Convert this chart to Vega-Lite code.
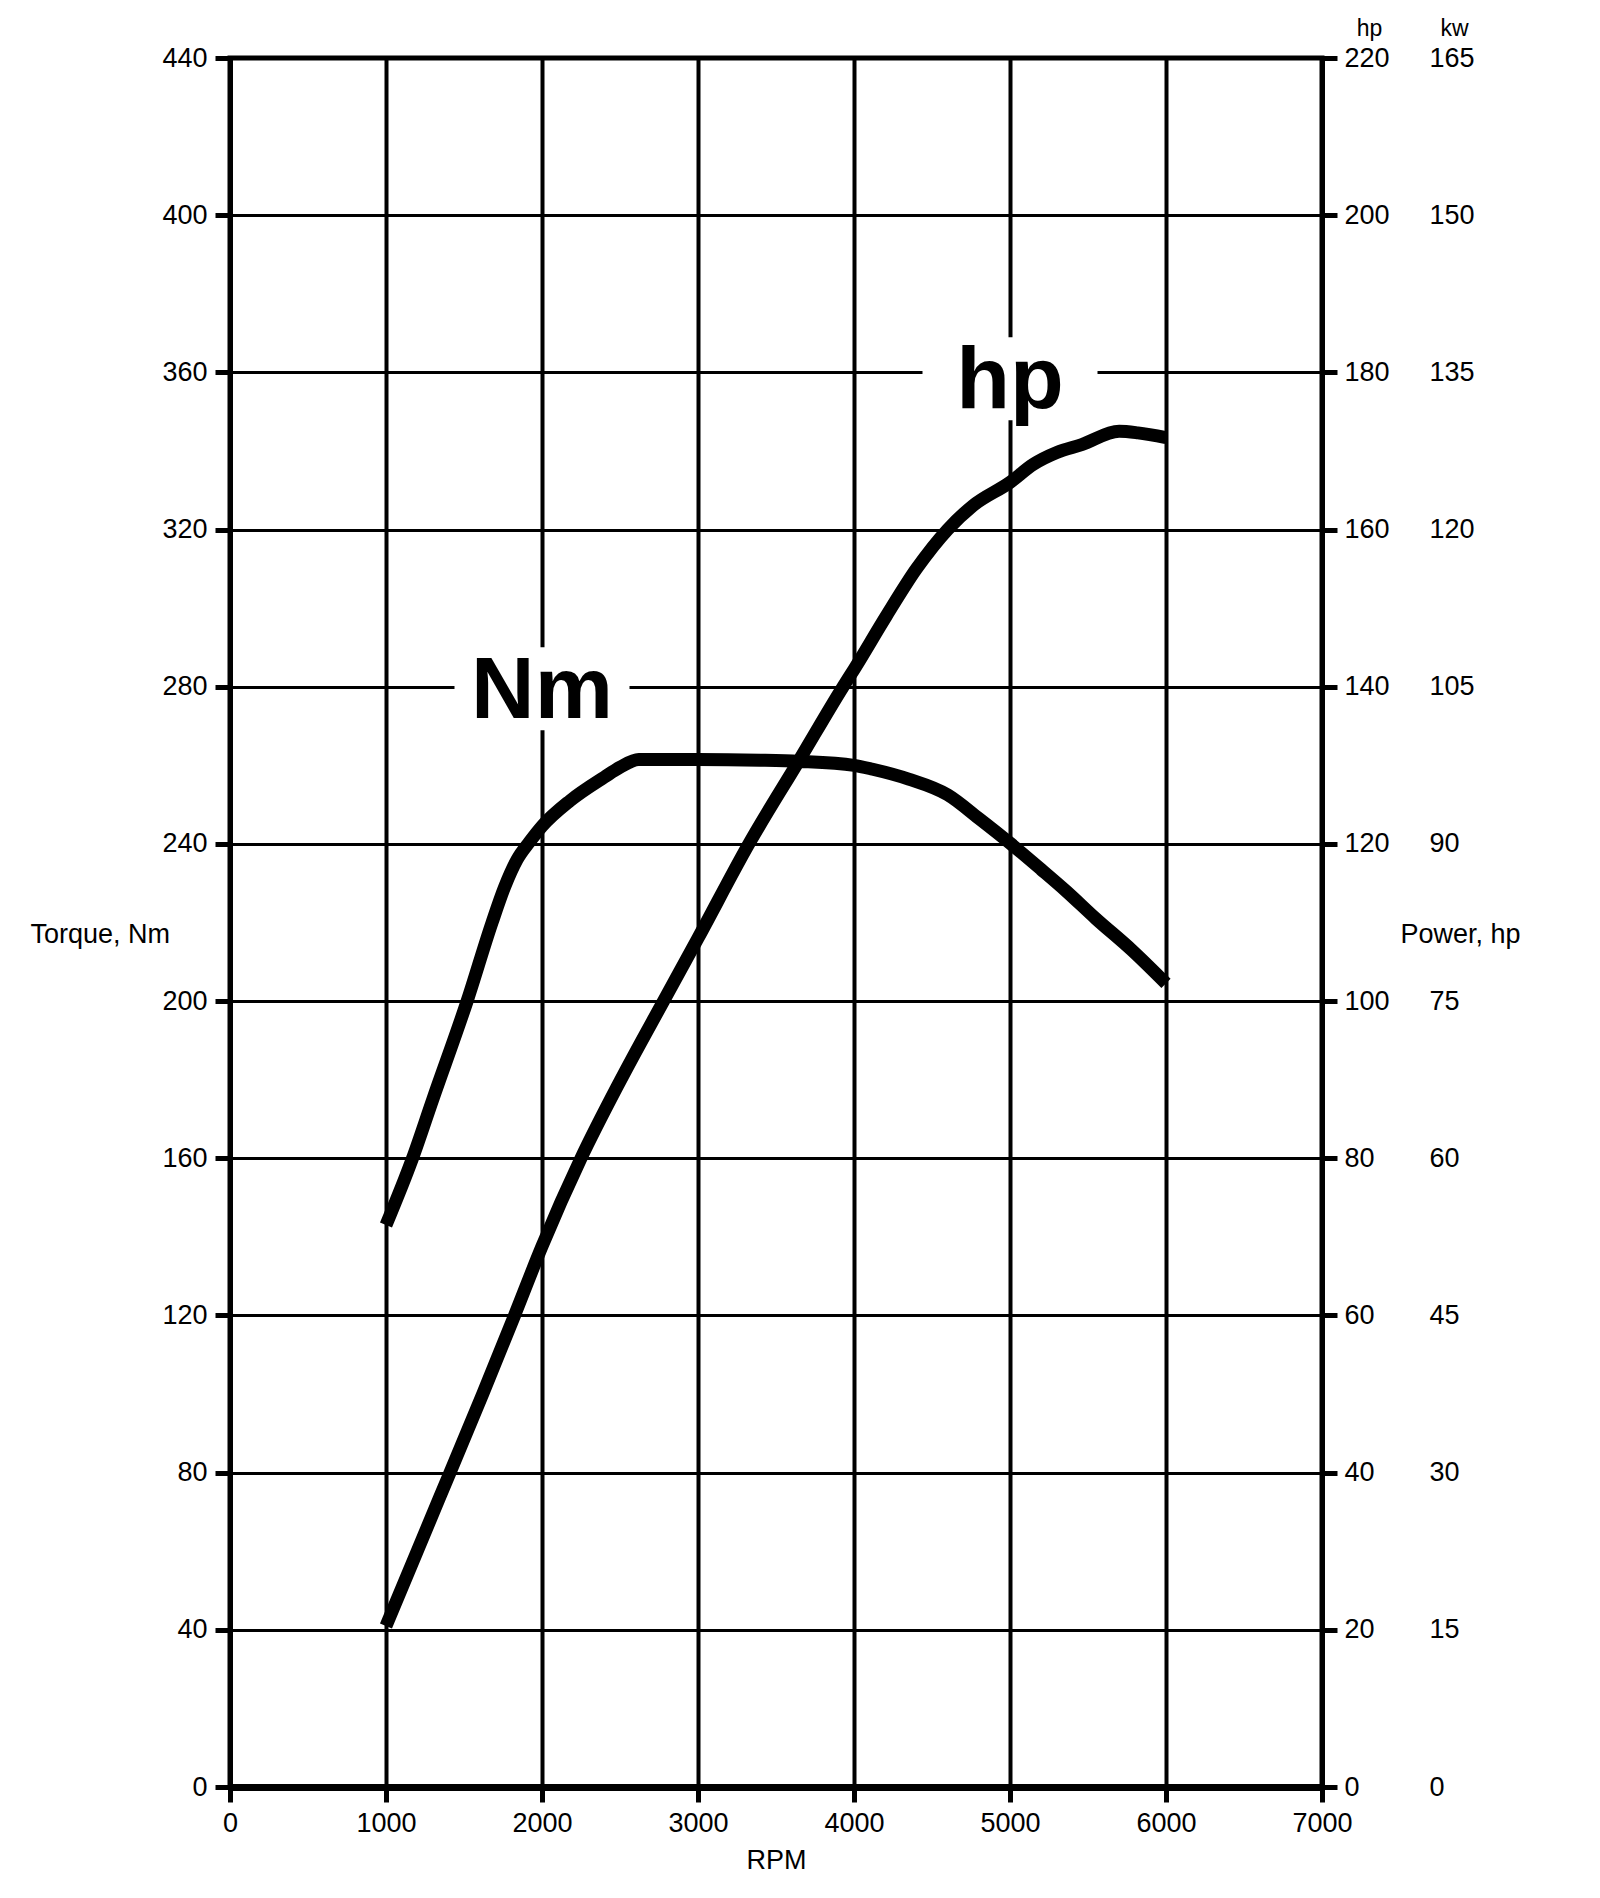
{
  "$schema": "https://vega.github.io/schema/vega-lite/v6.json",
  "autosize": {"type": "none"},
  "padding": {"left": 230, "top": 58, "right": 278, "bottom": 111},
  "width": 1092,
  "height": 1729,
  "background": "white",
  "config": {
    "font": "Liberation Sans",
    "view": {"stroke": "black", "strokeWidth": 5},
    "axis": {
      "labelFont": "Liberation Sans",
      "labelFontSize": 27,
      "labelColor": "black",
      "titleFont": "Liberation Sans",
      "titleFontSize": 27,
      "titleFontWeight": "normal",
      "titleColor": "black",
      "domainColor": "black",
      "tickColor": "black",
      "gridColor": "black",
      "gridOpacity": 1,
      "labelOverlap": false,
      "labelFlush": false
    }
  },
  "datasets": {
    "torque": [
      {"rpm": 1000, "torque": 143},
      {"rpm": 1170, "torque": 160},
      {"rpm": 1300, "torque": 175},
      {"rpm": 1520, "torque": 200},
      {"rpm": 1680, "torque": 220},
      {"rpm": 1760, "torque": 229},
      {"rpm": 1840, "torque": 236},
      {"rpm": 1920, "torque": 240.5},
      {"rpm": 2000, "torque": 244.5},
      {"rpm": 2180, "torque": 251},
      {"rpm": 2400, "torque": 257},
      {"rpm": 2500, "torque": 259.5},
      {"rpm": 2620, "torque": 261.5},
      {"rpm": 3000, "torque": 261.5},
      {"rpm": 3400, "torque": 261.3},
      {"rpm": 3650, "torque": 261},
      {"rpm": 4000, "torque": 260},
      {"rpm": 4120, "torque": 259},
      {"rpm": 4350, "torque": 256.5},
      {"rpm": 4600, "torque": 252.5},
      {"rpm": 4800, "torque": 246.5},
      {"rpm": 5000, "torque": 240.2},
      {"rpm": 5200, "torque": 233.5},
      {"rpm": 5360, "torque": 228},
      {"rpm": 5550, "torque": 221},
      {"rpm": 5780, "torque": 213},
      {"rpm": 6000, "torque": 204.5}
    ],
    "power": [
      {"rpm": 1000, "hp": 20.5},
      {"rpm": 1200, "hp": 30},
      {"rpm": 1410, "hp": 40},
      {"rpm": 1620, "hp": 50},
      {"rpm": 1824, "hp": 60},
      {"rpm": 2000, "hp": 68.8},
      {"rpm": 2250, "hp": 80},
      {"rpm": 2500, "hp": 89.8},
      {"rpm": 2779, "hp": 100},
      {"rpm": 3000, "hp": 108},
      {"rpm": 3326, "hp": 120},
      {"rpm": 3650, "hp": 130.7},
      {"rpm": 3930, "hp": 140},
      {"rpm": 4000, "hp": 142.2},
      {"rpm": 4207, "hp": 149},
      {"rpm": 4400, "hp": 155},
      {"rpm": 4600, "hp": 160},
      {"rpm": 4760, "hp": 163},
      {"rpm": 5000, "hp": 166},
      {"rpm": 5150, "hp": 168.3},
      {"rpm": 5300, "hp": 169.8},
      {"rpm": 5460, "hp": 170.8},
      {"rpm": 5700, "hp": 172.5},
      {"rpm": 5820, "hp": 172.3},
      {"rpm": 6000, "hp": 171.7}
    ],
    "labels": [
      {"rpm": 2000, "torque": 279.5, "label": "Nm"},
      {"rpm": 5000, "torque": 358.4, "label": "hp"}
    ]
  },
  "encoding": {
    "x": {
      "field": "rpm", "type": "quantitative",
      "scale": {"domain": [0, 7000], "nice": false},
      "axis": {
        "values": [0, 1000, 2000, 3000, 4000, 5000, 6000, 7000],
        "format": "d",
        "title": "RPM", "grid": true, "gridWidth": 4, "domainWidth": 7,
        "tickSize": 15, "tickWidth": 5, "labelPadding": 8,
        "titleY": 60, "titleBaseline": "top", "titlePadding": 0
      }
    }
  },
  "resolve": {"scale": {"y": "independent"}, "axis": {"y": "independent"}},
  "layer": [
    {
      "data": {"name": "torque"},
      "mark": {"type": "line", "color": "black", "strokeWidth": 13, "strokeCap": "butt", "strokeJoin": "round", "interpolate": "monotone"},
      "encoding": {
        "y": {
          "field": "torque", "type": "quantitative",
          "scale": {"domain": [0, 440], "nice": false},
          "axis": {
            "orient": "left",
            "values": [0, 40, 80, 120, 160, 200, 240, 280, 320, 360, 400, 440],
            "title": "Torque, Nm", "grid": true, "gridWidth": 3, "domainWidth": 5,
            "tickSize": 15, "tickWidth": 5, "labelPadding": 8,
            "titleAngle": 0, "titleAlign": "left", "titleBaseline": "alphabetic",
            "titleX": -200, "titleY": 884
          }
        }
      }
    },
    {
      "data": {"name": "power"},
      "mark": {"type": "line", "color": "black", "strokeWidth": 13, "strokeCap": "butt", "strokeJoin": "round", "interpolate": "monotone"},
      "encoding": {
        "y": {
          "field": "hp", "type": "quantitative",
          "scale": {"domain": [0, 220], "nice": false},
          "axis": {
            "orient": "right",
            "values": [0, 20, 40, 60, 80, 100, 120, 140, 160, 180, 200, 220],
            "grid": false, "domainWidth": 5, "tickSize": 15, "tickWidth": 5, "labelPadding": 7,
            "title": "hp", "titleAngle": 0, "titleAlign": "center", "titleBaseline": "alphabetic",
            "titleX": 47, "titleY": -23, "titleFontSize": 23
          }
        }
      }
    },
    {
      "data": {"name": "power"},
      "mark": {"type": "line", "strokeOpacity": 0},
      "encoding": {
        "y": {
          "field": "hp", "type": "quantitative",
          "scale": {"domain": [0, 220], "nice": false},
          "axis": {
            "orient": "right", "offset": 100,
            "values": [0, 20, 40, 60, 80, 100, 120, 140, 160, 180, 200, 220],
            "labelExpr": "format(datum.value * 0.75, 'd')",
            "grid": false, "domain": false, "ticks": false, "tickSize": 0, "labelPadding": 7,
            "title": "kw", "titleAngle": 0, "titleAlign": "center", "titleBaseline": "alphabetic",
            "titleX": 32, "titleY": -23, "titleFontSize": 23
          }
        }
      }
    },
    {
      "data": {"name": "power"},
      "mark": {"type": "line", "strokeOpacity": 0},
      "encoding": {
        "y": {
          "field": "hp", "type": "quantitative",
          "scale": {"domain": [0, 220], "nice": false},
          "axis": {
            "orient": "right", "labels": false, "grid": false, "domain": false, "ticks": false,
            "title": "Power, hp", "titleAngle": 0, "titleAlign": "left", "titleBaseline": "alphabetic",
            "titleX": 78, "titleY": 884
          }
        }
      }
    },
    {
      "data": {"name": "labels"},
      "mark": {"type": "point", "shape": "M-1,-0.474H1V0.474H-1Z", "size": 30625, "filled": true, "color": "white", "opacity": 1, "strokeWidth": 0},
      "encoding": {
        "y": {"field": "torque", "type": "quantitative", "scale": {"domain": [0, 440], "nice": false}, "axis": null}
      }
    },
    {
      "data": {"name": "labels"},
      "mark": {"type": "text", "font": "Liberation Sans", "fontSize": 88, "fontWeight": "bold", "align": "center", "baseline": "alphabetic", "dy": 29, "color": "black"},
      "encoding": {
        "y": {"field": "torque", "type": "quantitative", "scale": {"domain": [0, 440], "nice": false}, "axis": null},
        "text": {"field": "label", "type": "nominal"}
      }
    }
  ]
}
